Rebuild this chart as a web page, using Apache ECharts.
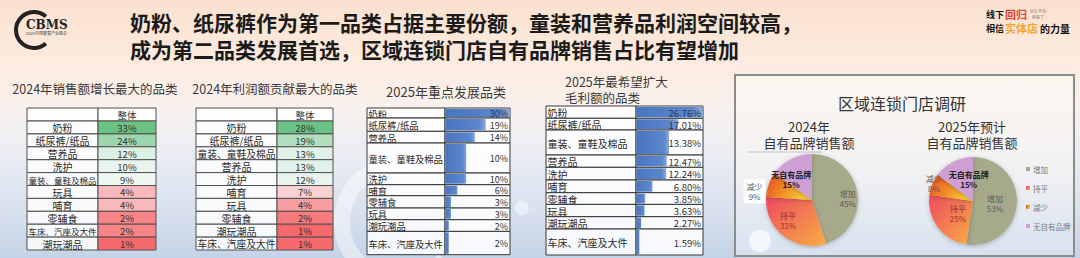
<!DOCTYPE html>
<html><head><meta charset="utf-8">
<script src="https://cdn.jsdelivr.net/npm/echarts@6/dist/echarts.min.js"></script>
<style>html,body{margin:0;padding:0;width:1080px;height:258px;overflow:hidden;}#c{width:1080px;height:258px;}</style>
</head><body><div id="c"></div>
<script>
// ---------- DATA ----------
const t1Cats = ['奶粉','纸尿裤/纸品','营养品','洗护','童装、童鞋及棉品','玩具','哺育','零辅食','车床、汽座及大件','潮玩潮品'];
const t1Vals = [33,24,12,10,9,4,4,2,2,1];
const t2Cats = ['奶粉','纸尿裤/纸品','童装、童鞋及棉品','营养品','洗护','哺育','玩具','零辅食','潮玩潮品','车床、汽座及大件'];
const t2Vals = [28,19,13,13,12,7,4,2,1,1];
const t3Cats = ['奶粉','纸尿裤/纸品','营养品','童装、童鞋及棉品','洗护','哺育','零辅食','玩具','潮玩潮品','车床、汽座及大件'];
const t3Vals = [30,19,14,10,10,6,3,3,2,2];
const t4Cats = ['奶粉','纸尿裤/纸品','童装、童鞋及棉品','营养品','洗护','哺育','零辅食','玩具','潮玩潮品','车床、汽座及大件'];
const t4Vals = [26.76,17.01,13.38,12.47,12.24,6.80,3.85,3.63,2.27,1.59];
const pieCats = ['增加','持平','减少','无自有品牌'];
const pie2024 = [45,31,9,15];
const pie2025 = [53,25,8,15];
const headerLabel = '整体';

// ---------- LAYOUT / STYLE ----------
const FONT = '"Noto Sans CJK SC","Noto Sans",sans-serif';
const tables = [
  {cats:t1Cats, vals:t1Vals, kind:'heat', x:27, split:98, x2:156, y:108, rows:[13,12.9,12.9,12.9,12.9,12.9,12.9,12.9,12.9,12.9,12.9], dec:0, fs:10, vfs:9.5},
  {cats:t2Cats, vals:t2Vals, kind:'heat', x:196, split:277, x2:333, y:108, rows:[13,12.9,12.9,12.9,12.9,12.9,12.9,12.9,12.9,12.9,12.9], dec:0, fs:10, vfs:9.5},
  {cats:t3Cats, vals:t3Vals, kind:'bar', x:367, split:445, x2:510, y:108, rows:[10,13.3,11.7,30,11.7,11,12.3,11.7,11.7,23.3], dec:0, fs:9.3, vfs:9},
  {cats:t4Cats, vals:t4Vals, kind:'bar', x:546, split:636, x2:703, y:106, rows:[12.3,11.7,25,12.3,12.7,12.7,11.7,12.3,12.3,26], dec:2, fs:10, vfs:9.5}
];
const pieColors = [
  '#a6aa8b',
  {type:'linear',x:0,y:0,x2:1,y2:1,colorStops:[{offset:0,color:'#ee4a60'},{offset:1,color:'#f7ae45'}]},
  {type:'linear',x:0,y:0,x2:1,y2:0.4,colorStops:[{offset:0,color:'#e6441c'},{offset:1,color:'#f6c734'}]},
  '#cf9fd4'
];
const pieLabelColors = ['#5d5d5d','#9a2f2f','#5d5d5d','#222'];
// label nudges (pixels) relative to the default inside position
const pieLabelShift2024 = [[10,3],[-8,0],[-33,0],[-9,3]];
const pieLabelShift2025 = [[-3,1],[5,-2],[-16,-8],[7,1]];

function hex(c){c=c.replace('#','');return [0,2,4].map(i=>parseInt(c.substr(i,2),16));}
function mix(c1,c2,t){const a=hex(c1),b=hex(c2);t=Math.max(0,Math.min(1,t));return 'rgb('+a.map((v,i)=>Math.round(v+(b[i]-v)*t)).join(',')+')';}
function heatColor(v, arr){
  const s=[...arr].sort((a,b)=>a-b), n=s.length;
  const med = n%2 ? s[(n-1)/2] : (s[n/2-1]+s[n/2])/2;
  if (v>=med) return mix('#fbfcfe','#6cc283',(v-med)/(s[n-1]-med));
  return mix('#fbfcfe','#f6696c',(med-v)/(med-s[0]));
}

const grids=[], xAxes=[], yAxes=[], series=[];
tables.forEach((t,k)=>{
  const gi = k*2;
  const H = t.rows.reduce((a,b)=>a+b,0);
  const bounds=[0]; t.rows.forEach(h=>bounds.push(bounds[bounds.length-1]+h));
  grids.push({left:t.x, top:t.y, width:t.split-t.x, height:H, outerBoundsMode:'none'});
  grids.push({left:t.split, top:t.y, width:t.x2-t.split, height:H, outerBoundsMode:'none'});
  const vmax = t.kind==='bar' ? Math.max(...t.vals) : 1;
  xAxes.push({gridIndex:gi, type:'value', min:0, max:1, show:false});
  xAxes.push({gridIndex:gi+1, type:'value', min:0, max:vmax, show:false});
  yAxes.push({gridIndex:gi, type:'value', min:0, max:H, inverse:true, show:false});
  yAxes.push({gridIndex:gi+1, type:'value', min:0, max:H, inverse:true, show:false});
  const hdr = t.kind==='heat' ? 1 : 0;
  const rowsData=[];
  if (hdr) rowsData.push([-1, bounds[0], bounds[1], 0]);
  t.cats.forEach((c,i)=>rowsData.push([i, bounds[i+hdr], bounds[i+hdr+1], t.vals[i]]));
  const stroke = t.kind==='heat' ? '#505050' : '#383838';
  // label column
  series.push({
    type:'custom', xAxisIndex:gi, yAxisIndex:gi, clip:false, silent:true, data:rowsData, z:3,
    renderItem:(params, api)=>{
      const i=api.value(0), s=api.value(1), e=api.value(2);
      const a=api.coord([0,s]), b=api.coord([1,e]);
      const text = i<0 ? '' : t.cats[i];
      const w = b[0]-a[0];
      const fs = Math.min(t.fs, (w-3)/Math.max(1,text.length));
      return {type:'group', children:[
        {type:'rect', shape:{x:a[0],y:a[1],width:w,height:b[1]-a[1]}, style:{fill:'rgba(255,255,255,0.82)', stroke, lineWidth:1}},
        {type:'text', style:{text, x: t.kind==='heat' ? (a[0]+b[0])/2 : a[0]+1.5, y:(a[1]+b[1])/2+0.5,
          align: t.kind==='heat' ? 'center':'left', verticalAlign:'middle',
          fontSize: fs, fontFamily:FONT, fill:'#2a2a2a'}}
      ]};
    }
  });
  // value column
  series.push({
    type:'custom', xAxisIndex:gi+1, yAxisIndex:gi+1, clip:false, silent:true, data:rowsData, z:3,
    renderItem:(params, api)=>{
      const i=api.value(0), s=api.value(1), e=api.value(2), v=api.value(3);
      const a=api.coord([0,s]), b=api.coord([vmax,e]);
      const children=[];
      if (t.kind==='heat') {
        const fill = i<0 ? 'rgba(255,255,255,0.82)' : heatColor(v, t.vals);
        children.push({type:'rect', shape:{x:a[0],y:a[1],width:b[0]-a[0],height:b[1]-a[1]}, style:{fill, stroke, lineWidth:1}});
        children.push({type:'text', style:{text: i<0 ? headerLabel : v.toFixed(t.dec)+'%', x:(a[0]+b[0])/2, y:(a[1]+b[1])/2+0.5,
          align:'center', verticalAlign:'middle', fontSize:t.vfs, fontFamily:FONT, fill:'#333'}});
      } else {
        const pv = api.coord([v,s]);
        children.push({type:'rect', shape:{x:a[0],y:a[1],width:b[0]-a[0],height:b[1]-a[1]}, style:{fill:'rgba(255,255,255,0.85)', stroke, lineWidth:1}});
        children.push({type:'rect', shape:{x:a[0]+0.5,y:a[1]+1,width:pv[0]-a[0]-1,height:b[1]-a[1]-2},
          style:{fill:{type:'linear',x:0,y:0,x2:1,y2:0,colorStops:[{offset:0,color:'#4775c0'},{offset:0.85,color:'#5d87cc'},{offset:1,color:'#89a9dc'}]}}});
        children.push({type:'text', style:{text: v.toFixed(t.dec)+'%', x:b[0]-2, y:(a[1]+b[1])/2+0.5,
          align:'right', verticalAlign:'middle', fontSize:t.vfs, fontFamily:FONT, fill: i===0 ? '#1f3864' : '#333'}});
      }
      return {type:'group', children};
    }
  });
});

function pieSeries(vals, center, radius, shifts, boxed){
  return {
    type:'pie', center, radius:[0,radius], startAngle:90, clockwise:true, avoidLabelOverlap:false, silent:true, z:4,
    itemStyle:{shadowBlur:4, shadowColor:'rgba(0,0,0,0.25)', shadowOffsetY:1},
    label:{show:true, position:'inside', formatter:'{b}\n{c}%', fontSize:8, lineHeight:10, fontFamily:FONT},
    labelLine:{show:false},
    labelLayout:(p)=>({dx:shifts[p.dataIndex][0], dy:shifts[p.dataIndex][1]}),
    data: pieCats.map((n,i)=>{
      const d = {name:n, value:vals[i], itemStyle:{color:pieColors[i]}, label:{color:pieLabelColors[i], fontWeight: i===3 ? 'bold':'normal'}};
      if (boxed && i===2) d.label.backgroundColor='rgba(255,255,255,0.95)', d.label.padding=[2,3];
      return d;
    })
  };
}
series.push(pieSeries(pie2024, [812,200], 46, pieLabelShift2024, true));
series.push(pieSeries(pie2025, [973,201], 44, pieLabelShift2025, false));

const graphic = [
  {type:'rect', z:-10, silent:true, shape:{x:0,y:0,width:1080,height:258},
    style:{fill:{type:'linear',x:0,y:0,x2:0,y2:1,colorStops:[
      {offset:0,color:'#fbe1ce'},{offset:0.27,color:'#fcece1'},{offset:0.42,color:'#f8f1ee'},
      {offset:0.62,color:'#e8ecf3'},{offset:0.82,color:'#d8e1ee'},{offset:1,color:'#c4d3e7'}]}}},
  // watermark shapes
  {type:'arc', z:-5, silent:true, shape:{cx:400,cy:222,r:58,startAngle:0.7,endAngle:5.6}, style:{stroke:'rgba(255,255,255,0.45)', lineWidth:16, fill:null}},
  {type:'circle', z:-5, silent:true, shape:{cx:522,cy:208,r:7}, style:{fill:'rgba(255,255,255,0.45)'}},
  // pie panel
  {type:'rect', z:1, silent:true, shape:{x:735,y:75,width:339,height:181},
    style:{stroke:'#8c8c8c', lineWidth:2, fill:{type:'linear',x:0,y:0,x2:0,y2:1,colorStops:[
      {offset:0,color:'#fcf6f0'},{offset:0.5,color:'#f3f2f3'},{offset:1,color:'#d7e2ef'}]}}},
  {type:'circle', z:2, silent:true, shape:{cx:760,cy:241,r:11}, style:{fill:'rgba(255,255,255,0.7)'}},
  {type:'line', z:2, silent:true, shape:{x1:748,y1:152,x2:822,y2:152}, style:{stroke:'#c4c4c4', lineWidth:1}},
  {type:'text', z:5, style:{text:'区域连锁门店调研', x:902, y:103, align:'center', verticalAlign:'middle', fontSize:16, fontFamily:FONT, fill:'#333'}},
  {type:'text', z:5, style:{text:'2024年', x:809, y:126, align:'center', verticalAlign:'middle', fontSize:13, fontFamily:FONT, fill:'#333'}},
  {type:'text', z:5, style:{text:'自有品牌销售额', x:809, y:142, align:'center', verticalAlign:'middle', fontSize:13, fontFamily:FONT, fill:'#333'}},
  {type:'text', z:5, style:{text:'2025年预计', x:972, y:126, align:'center', verticalAlign:'middle', fontSize:13, fontFamily:FONT, fill:'#333'}},
  {type:'text', z:5, style:{text:'自有品牌销售额', x:972, y:142, align:'center', verticalAlign:'middle', fontSize:13, fontFamily:FONT, fill:'#333'}},
  // main title
  {type:'text', z:5, style:{text:'奶粉、纸尿裤作为第一品类占据主要份额，童装和营养品利润空间较高，', x:130, y:22, verticalAlign:'middle', fontSize:21, fontWeight:'bold', fontFamily:FONT, fill:'#1b1b1b'}},
  {type:'text', z:5, style:{text:'成为第二品类发展首选，区域连锁门店自有品牌销售占比有望增加', x:130, y:49, verticalAlign:'middle', fontSize:21, fontWeight:'bold', fontFamily:FONT, fill:'#1b1b1b'}},
  // table titles
  {type:'text', z:5, style:{text:'2024年销售额增长最大的品类', x:95, y:88, align:'center', verticalAlign:'middle', fontSize:12.5, fontFamily:FONT, fill:'#3a3a3a'}},
  {type:'text', z:5, style:{text:'2024年利润额贡献最大的品类', x:275, y:88, align:'center', verticalAlign:'middle', fontSize:12.5, fontFamily:FONT, fill:'#3a3a3a'}},
  {type:'text', z:5, style:{text:'2025年重点发展品类', x:446, y:91, align:'center', verticalAlign:'middle', fontSize:13, fontFamily:FONT, fill:'#3a3a3a'}},
  {type:'text', z:5, style:{text:'2025年最希望扩大', x:565, y:81, verticalAlign:'middle', fontSize:12.5, fontFamily:FONT, fill:'#3a3a3a'}},
  {type:'text', z:5, style:{text:'毛利额的品类', x:565, y:97, verticalAlign:'middle', fontSize:12.5, fontFamily:FONT, fill:'#3a3a3a'}},
  // left logo
  {type:'arc', z:5, silent:true, shape:{cx:34,cy:30,r:18,startAngle:0.85,endAngle:5.43,clockwise:true}, style:{stroke:'#222', lineWidth:4, fill:null}},
  {type:'text', z:6, style:{text:'CBMS', x:26, y:25, verticalAlign:'middle', fontSize:12, fontWeight:'bold', fontFamily:'"DejaVu Serif","Liberation Serif",serif', fill:'#222'}},
  {type:'text', z:6, style:{text:'2025中国婴童产业峰会', x:26, y:33, verticalAlign:'middle', fontSize:4, fontFamily:FONT, fill:'#444'}},
  // right logo
  {type:'text', z:6, style:{text:'线下', x:986, y:14, verticalAlign:'middle', fontSize:9, fontWeight:'bold', fontFamily:FONT, fill:'#111'}},
  {type:'text', z:6, style:{text:'回归', x:1005, y:14, verticalAlign:'middle', fontSize:11, fontWeight:'bold', fontFamily:FONT, fill:'#e4443c'}},
  {type:'text', z:6, style:{text:'好久不见!', x:1030, y:11, verticalAlign:'middle', fontSize:4, fontFamily:FONT, fill:'#777'}},
  {type:'text', z:6, style:{text:'回来了', x:1032, y:17, verticalAlign:'middle', fontSize:4, fontFamily:FONT, fill:'#777'}},
  {type:'text', z:6, style:{text:'相信', x:986, y:28, verticalAlign:'middle', fontSize:9, fontWeight:'bold', fontFamily:FONT, fill:'#111'}},
  {type:'text', z:6, style:{text:'实体店', x:1005, y:28, verticalAlign:'middle', fontSize:11, fontWeight:'bold', fontFamily:FONT, fill:'#f0a53a'}},
  {type:'text', z:6, style:{text:'的力量', x:1040, y:28, verticalAlign:'middle', fontSize:10, fontWeight:'bold', fontFamily:FONT, fill:'#111'}}
];

const chart = echarts.init(document.getElementById('c'), null, {renderer:'svg', width:1080, height:258});
chart.setOption({
  animation:false,
  grid:grids, xAxis:xAxes, yAxis:yAxes,
  legend:{orient:'vertical', left:1026, top:164, padding:0, itemWidth:4, itemHeight:4, itemGap:9, icon:'rect', selectedMode:false,
    textStyle:{fontSize:7.5, lineHeight:10, color:'#7a7a7a', fontFamily:FONT, padding:[0,0,0,-2]}, itemStyle:{shadowBlur:0}, data:pieCats},
  graphic, series
});
</script></body></html>
